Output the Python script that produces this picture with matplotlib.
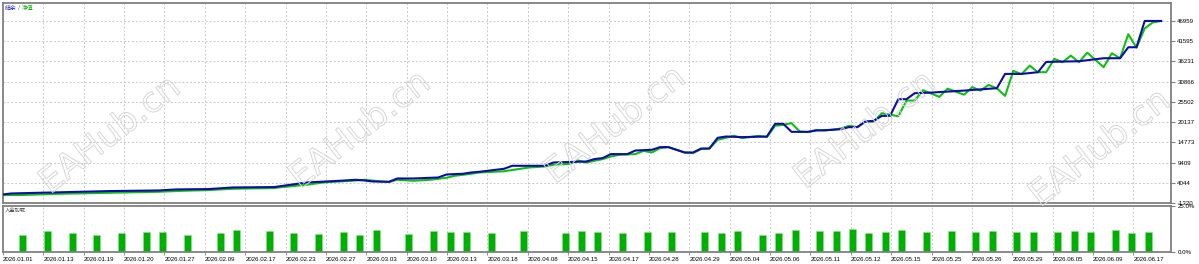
import numpy as np
import matplotlib
matplotlib.use("Agg")
import matplotlib.pyplot as plt
import matplotlib.patheffects as pe

# ---- data (deal index -> balance / equity) ----
bal_n = [0, 1, 7, 13, 19, 21, 25, 28, 33, 37, 41, 43, 44, 45, 47, 48, 50, 53, 54, 56,
         57, 58, 61, 62, 66, 67, 71, 72, 73, 74, 76, 77, 79, 80, 81, 83, 84, 85, 86, 87,
         88, 90, 93, 94, 95, 96, 98, 99, 101, 102, 103, 104, 105, 106, 107, 108, 109, 110, 111, 113,
         115, 117, 121, 122, 124, 126, 127, 131, 134, 136, 137, 138, 139, 141]
bal_v = [946, 1210, 1528, 1846, 2005, 2270, 2376, 2800, 2906, 4125, 4575, 4840, 4655, 4390, 4311, 5185, 5185, 5449, 6244, 6430,
         6773, 6959, 7753, 8548, 8548, 9423, 9688, 10324, 10589, 11648, 11648, 12603, 12788, 13503, 13503, 12072, 12072, 13132, 13132, 15966,
         16311, 16152, 16311, 19674, 19674, 17556, 17556, 17900, 18085, 18271, 18800, 18800, 20283, 20469, 21793, 21793, 26217, 26217, 27807, 27966,
         28230, 28495, 29131, 32920, 32920, 33370, 36098, 36283, 37078, 37078, 39992, 39992, 46959, 46959]

eq_n = [0, 2, 7, 9, 13, 19, 22, 25, 28, 29, 33, 34, 37, 39, 43, 44, 46, 47, 48, 50,
        52, 54, 55, 57, 58, 61, 63, 64, 66, 67, 69, 70, 71, 73, 74, 75, 77, 78, 79, 80,
        81, 83, 84, 85, 86, 87, 89, 90, 92, 93, 94, 95, 96, 97, 98, 99, 100, 102, 103, 104,
        105, 106, 107, 109, 110, 111, 112, 114, 115, 117, 118, 119, 120, 121, 122, 123, 124, 125, 126, 127,
        128, 129, 130, 131, 132, 134, 135, 136, 137, 138, 139, 140, 141]
eq_v = [787, 787, 1131, 1210, 1396, 1661, 1926, 2111, 2456, 2500, 2641, 2906, 3515, 4125, 4655, 4840, 4390, 4231, 4840, 4575,
        4840, 5370, 5900, 6430, 6773, 7100, 7753, 8098, 8363, 8814, 9078, 9953, 9423, 10324, 11012, 11462, 11648, 12522, 12072, 13238,
        13503, 12072, 11913, 12973, 13132, 15436, 16496, 15887, 16496, 16152, 19144, 19409, 19859, 17635, 17476, 18085, 17900, 18430, 19144, 18800,
        20283, 20283, 22509, 21700, 25846, 25846, 28600, 26830, 29000, 27400, 29396, 28495, 30006, 29078, 27100, 33714, 32840, 35118, 33370, 33370,
        36893, 36019, 37767, 36019, 38561, 34694, 38403, 37078, 43436, 39900, 45000, 46600, 46959]

# deposit load (%) per entry deal
bar_n = [2, 5, 8, 11, 14, 17, 19, 22, 26, 28, 32, 35, 38, 41, 43, 45, 49, 52, 54, 56,
         59, 63, 68, 70, 72, 75, 78, 81, 85, 87, 89, 92, 94, 96, 99, 101, 103, 105, 107, 109,
         112, 115, 118, 120, 123, 125, 128, 130, 132, 135, 137, 139]
bar_h = [9.4, 11.3, 10.2, 9.1, 10.2, 10.9, 10.6, 9.4, 10.2, 11.7, 11.3, 10.2, 9.8, 10.6, 9.1, 11.7,
         9.8, 11.3, 10.6, 10.9, 10.2, 11.3, 10.2, 11.3, 10.6, 10.2, 10.6, 10.9, 10.6, 10.2, 11.3, 9.4, 10.2, 11.7,
         11.3, 11.3, 12.4, 10.2, 10.6, 11.7, 10.9, 11.3, 10.6, 11.3, 10.6, 10.9, 10.6, 11.3, 10.9, 11.7, 10.2, 10.6]

y_ticks = [-1320, 4044, 9409, 14773, 20137, 25502, 30866, 36231, 41595, 46959]
date_labels = ["2026.01.01", "2026.01.13", "2026.01.19", "2026.01.20", "2026.01.27", "2026.02.09",
               "2026.02.17", "2026.02.23", "2026.02.27", "2026.03.03", "2026.03.10", "2026.03.13",
               "2026.03.18", "2026.04.08", "2026.04.15", "2026.04.17", "2026.04.28", "2026.04.29",
               "2026.05.04", "2026.05.06", "2026.05.11", "2026.05.12", "2026.05.15", "2026.05.25",
               "2026.05.26", "2026.05.29", "2026.06.05", "2026.06.09", "2026.06.17"]

# ---- style ----
W, H = 1199, 264
frame = "#808080"
grid_kw = dict(color="#c8c8c8", linestyle=(0, (2, 2)), linewidth=0.7)
tick_font = dict(family="Liberation Sans", size=4.4)
cjk = ["Noto Sans CJK SC", "DejaVu Sans"]
grid_step = 4.915          # deals between vertical grid lines
x_max = 142.2

fig = plt.figure(figsize=(W / 100, H / 100), dpi=100)
fig.patch.set_facecolor("white")

ax = fig.add_axes([3 / W, 1 - 203 / H, 1168 / W, 200 / H])
ax2 = fig.add_axes([3 / W, 1 - 252 / H, 1168 / W, 46 / H])

grid_x = np.arange(len(date_labels)) * grid_step

for a in (ax, ax2):
    a.set_xlim(0, x_max)
    for g in grid_x[1:]:
        a.axvline(g, zorder=0, **grid_kw)
    for s in a.spines.values():
        s.set_color(frame)
        s.set_linewidth(1.3)

# main panel
ax.set_ylim(-1320, 51727)
for v in y_ticks[1:]:
    ax.axhline(v, zorder=0, **grid_kw)

# watermark
for cx, cy in [(110, 135), (360, 130), (615, 125), (865, 130), (1100, 148)]:
    fig.text(cx / W, 1 - cy / H, "EAHub.cn", fontsize=25, rotation=38,
             ha="center", va="center", color="none", family="DejaVu Sans",
             path_effects=[pe.Stroke(linewidth=0.7, foreground="#d6d6d6")], zorder=0)

ax.plot(eq_n, eq_v, color="#10c010", linewidth=1.5, zorder=3)
ax.plot(bal_n, bal_v, color="#0c0ca8", linewidth=1.5, zorder=4)

ax.yaxis.tick_right()
ax.set_yticks(y_ticks)
ax.set_yticklabels([str(v) for v in y_ticks], fontdict=tick_font)
ax.tick_params(axis="y", length=3, width=0.8, color=frame, pad=1.5)
ax.set_xticks([])

fig.text(5 / W, 1 - 8 / H, "结余", color="#2020c0", fontsize=4.2, family=cjk, va="center")
fig.text(17.5 / W, 1 - 8 / H, "/", color="#404040", fontsize=4.2, family=cjk, va="center")
fig.text(22 / W, 1 - 8 / H, "净值", color="#10b010", fontsize=4.2, family=cjk, va="center")

# deposit load panel
ax2.bar(bar_n, bar_h, width=0.85, align="edge", color="#00b000",
        edgecolor="#90dc90", linewidth=0.4, zorder=2)
ax2.set_ylim(0, 25)
ax2.yaxis.tick_right()
ax2.set_yticks([0, 25])
ax2.set_yticklabels(["0.0%", "25.0%"], fontdict=tick_font)
ax2.tick_params(axis="y", length=3, width=0.8, color=frame, pad=1.5)
ax2.set_xticks(grid_x)
ax2.set_xticklabels(date_labels, fontdict=tick_font, ha="left")
ax2.tick_params(axis="x", length=2, width=0.6, color=frame, pad=1.5)
fig.text(5 / W, 1 - 211 / H, "入金加载", color="#404040", fontsize=3.8, family=cjk, va="center")

fig.savefig("out.png", dpi=100, facecolor="white")
